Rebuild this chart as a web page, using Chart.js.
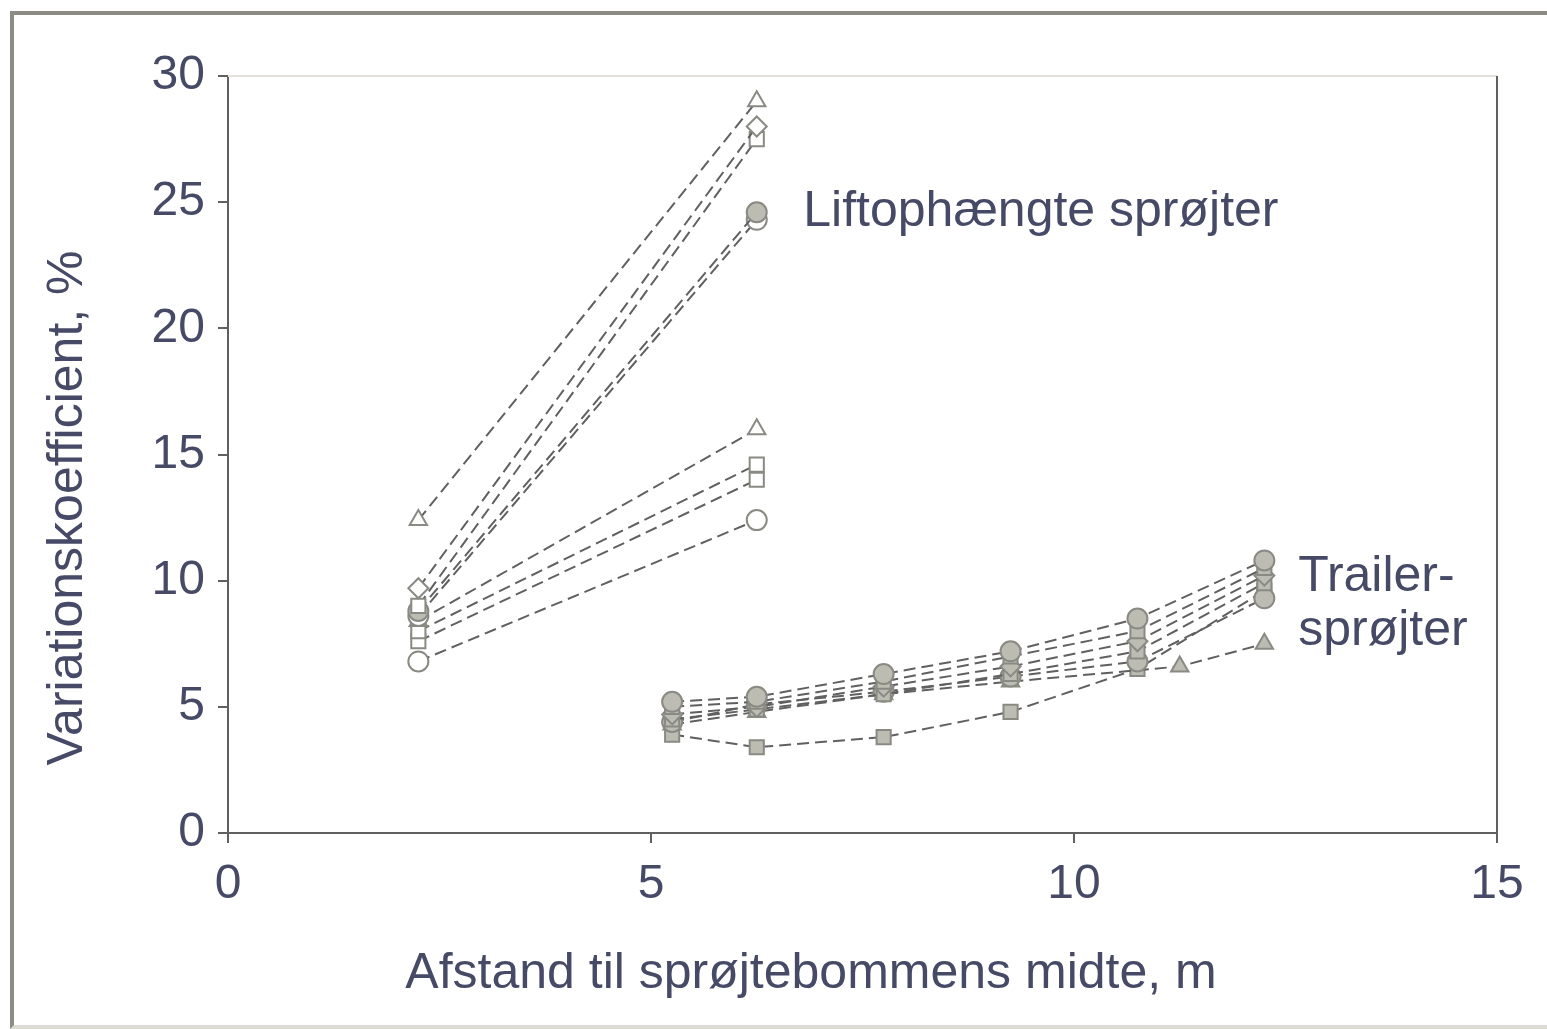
<!DOCTYPE html>
<html>
<head>
<meta charset="utf-8">
<script src="https://cdn.jsdelivr.net/npm/chart.js@4"></script>
<style>
html, body { margin: 0; padding: 0; background: #fff; }
#wrap { position: relative; width: 1547px; height: 1029px; overflow: hidden; }
#frame { position: absolute; left: 10px; top: 11px; width: 1560px; height: 1010px;
         border: 4px solid #8c8c84; border-bottom-color: #dcdcd4; pointer-events: none; }
</style>
</head>
<body>
<div id="wrap">
  <canvas id="cvChart" width="1547" height="1029"></canvas>
  <div id="frame"></div>
</div>
<script>
// Liftophængte sprøjter: two measuring positions
const xLift = [2.25, 6.25];
const liftA = [12.4, 29.0];
const liftB = [9.7, 28.0];
const liftC = [9.0, 27.5];
const liftD = [8.8, 24.6];
const liftE = [8.6, 24.3];
const liftF = [8.4, 16.0];
const liftG = [8.0, 14.6];
const liftH = [7.6, 14.0];
const liftI = [6.8, 12.4];

// Trailersprøjter
const xTrailer = [5.25, 6.25, 7.75, 9.25, 10.75, 12.25];
const xTrailerTri = [5.25, 6.25, 7.75, 9.25, 11.25, 12.25];
const trailA = [5.2, 5.4, 6.3, 7.2, 8.5, 10.8];
const trailB = [5.0, 5.2, 6.0, 7.0, 8.0, 10.5];
const trailC = [4.7, 5.0, 5.8, 6.6, 7.6, 10.2];
const trailD = [4.5, 4.9, 5.5, 6.3, 7.2, 9.9];
const trailE = [4.4, 5.1, 5.6, 6.2, 6.8, 9.3];
const trailTri = [4.3, 4.8, 5.5, 6.0, 6.6, 7.5];
const trailLow = [3.9, 3.4, 3.8, 4.8, 6.5, 9.6];

const xTicks = [0, 5, 10, 15];
const yTicks = [0, 5, 10, 15, 20, 25, 30];

const xTitle = 'Afstand til sprøjtebommens midte, m';
const yTitle = 'Variationskoefficient, %';

const textColor = '#474a66';
const lineColor = '#606060';
const fontFamily = '"Liberation Sans", Arial, sans-serif';

function pts(xs, ys) {
    return xs.map((x, i) => ({ x: x, y: ys[i] }));
}

function serie(xs, ys, shape, filled) {
    return {
        data: pts(xs, ys),
        showLine: true,
        borderColor: lineColor,
        borderWidth: 2,
        borderDash: [12, 6],
        pointStyle: shape,
        pointRadius: 10,
        pointBorderWidth: 2,
        pointBorderColor: '#8a8a84',
        pointBackgroundColor: filled ? '#bcbcb2' : '#ffffff'
    };
}

const datasets = [
    serie(xLift, liftA, 'triangle', false),
    serie(xLift, liftB, 'rectRot', false),
    serie(xLift, liftC, 'rect', false),
    serie(xLift, liftD, 'circle', true),
    serie(xLift, liftE, 'circle', false),
    serie(xLift, liftF, 'triangle', false),
    serie(xLift, liftG, 'rect', false),
    serie(xLift, liftH, 'rect', false),
    serie(xLift, liftI, 'circle', false),
    serie(xTrailer, trailA, 'circle', true),
    serie(xTrailer, trailB, 'rect', true),
    serie(xTrailer, trailC, 'rectRot', true),
    serie(xTrailer, trailD, 'rect', true),
    serie(xTrailer, trailE, 'circle', true),
    serie(xTrailerTri, trailTri, 'triangle', true),
    serie(xTrailer, trailLow, 'rect', true)
];

// Tekster i diagrammet (placeret i dataenheder)
const notes = [
    { text: 'Liftophængte sprøjter', x: 6.8, y: 24.6 },
    { text: 'Trailer-', x: 12.65, y: 10.15 },
    { text: 'sprøjter', x: 12.65, y: 8.0 }
];

const plotFrame = {
    id: 'plotFrame',
    beforeDatasetsDraw(chart) {
        const { ctx, chartArea: a } = chart;
        ctx.save();
        ctx.lineWidth = 2;
        ctx.strokeStyle = '#e4e0dc';
        ctx.beginPath();
        ctx.moveTo(a.left, a.top);
        ctx.lineTo(a.right, a.top);
        ctx.stroke();
        ctx.strokeStyle = lineColor;
        ctx.beginPath();
        ctx.moveTo(a.right, a.top);
        ctx.lineTo(a.right, a.bottom);
        ctx.stroke();
        ctx.restore();
    },
    afterDraw(chart) {
        const { ctx, scales, chartArea: a } = chart;
        ctx.save();
        ctx.fillStyle = textColor;
        ctx.font = '50px ' + fontFamily;
        ctx.textAlign = 'left';
        ctx.textBaseline = 'middle';
        notes.forEach(n => {
            ctx.fillText(n.text, scales.x.getPixelForValue(n.x), scales.y.getPixelForValue(n.y));
        });
        // aksetitler
        ctx.textAlign = 'center';
        ctx.fillText(xTitle, a.left + 583, a.bottom + 141);
        ctx.translate(68, a.top + 432);
        ctx.rotate(-Math.PI / 2);
        ctx.fillText(yTitle, 0, 0);
        ctx.restore();
    }
};

function createChart() {
    const ctx = document.getElementById('cvChart').getContext('2d');
    new Chart(ctx, {
        type: 'scatter',
        data: { datasets: datasets },
        options: {
            responsive: false,
            animation: false,
            layout: { padding: { left: 0, right: 50, top: 76, bottom: 0 } },
            plugins: { legend: { display: false }, tooltip: { enabled: false } },
            scales: {
                x: {
                    type: 'linear', min: 0, max: 15,
                    afterBuildTicks: s => { s.ticks = xTicks.map(v => ({ value: v })); },
                    afterFit: s => { s.height = 196; },
                    ticks: { color: textColor, font: { family: fontFamily, size: 48 }, padding: 13, maxRotation: 0 },
                    grid: { drawOnChartArea: false, drawTicks: true, tickLength: 10, color: lineColor, lineWidth: 2 },
                    border: { display: true, color: lineColor, width: 2 }
                },
                y: {
                    type: 'linear', min: 0, max: 30,
                    afterBuildTicks: s => { s.ticks = yTicks.map(v => ({ value: v })); },
                    afterFit: s => { s.width = 228; },
                    ticks: { color: textColor, font: { family: fontFamily, size: 48 }, padding: 13 },
                    grid: { drawOnChartArea: false, drawTicks: true, tickLength: 10, color: lineColor, lineWidth: 2 },
                    border: { display: true, color: lineColor, width: 2 }
                }
            }
        },
        plugins: [plotFrame]
    });
}

document.addEventListener('DOMContentLoaded', createChart);
</script>
</body>
</html>
